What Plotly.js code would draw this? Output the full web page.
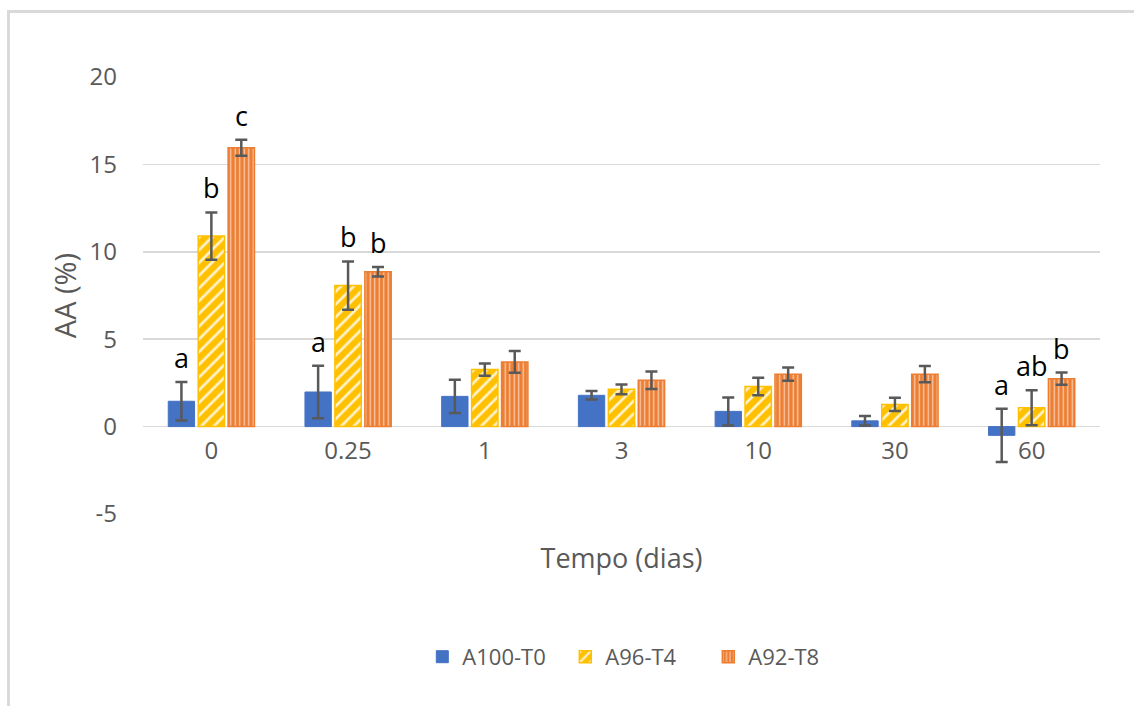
<!DOCTYPE html>
<html>
<head>
<meta charset="utf-8">
<script src="https://cdn.plot.ly/plotly-3.0.1.min.js"></script>
<style>
  html, body { margin: 0; padding: 0; background: #ffffff; }
  #wrap { position: relative; width: 1134px; height: 706px; overflow: hidden; }
  #chart { position: absolute; left: 0; top: 0; width: 1134px; height: 706px; }
  #frame { position: absolute; left: 7px; top: 10px; width: 1200px; height: 800px;
           border-left: 3px solid #D9D9D9; border-top: 3px solid #D9D9D9; pointer-events: none; }
</style>
</head>
<body>
<div id="wrap">
  <div id="chart"></div>
  <div id="frame"></div>
</div>
<script>
// Storage time (days)
const tempos = ['0', '0.25', '1', '3', '10', '30', '60'];

// AA (%) means and standard deviations per formulation
const a100 = [1.45, 1.98, 1.73, 1.79, 0.87, 0.33, -0.50];
const a100Err = [1.10, 1.50, 0.95, 0.24, 0.80, 0.27, 1.52];
const a96 = [10.90, 8.07, 3.26, 2.13, 2.30, 1.27, 1.08];
const a96Err = [1.35, 1.38, 0.35, 0.28, 0.50, 0.38, 1.00];
const a92 = [15.95, 8.86, 3.70, 2.65, 3.00, 3.00, 2.74];
const a92Err = [0.46, 0.27, 0.62, 0.50, 0.38, 0.46, 0.35];

// Significance letters (Tukey) per group
const letrasA100 = ['a', 'a', '', '', '', '', 'a'];
const letrasA96 = ['b', 'b', '', '', '', '', 'ab'];
const letrasA92 = ['c', 'b', '', '', '', '', 'b'];

const nomes = ['A100-T0', 'A96-T4', 'A92-T8'];

// Value-axis ticks (plain hyphen for the negative label)
const yTickVals = [-5, 0, 5, 10, 15, 20];
const yTickText = ['-5', '0', '5', '10', '15', '20'];

const FONT = 'Open Sans, Noto Sans, sans-serif';
const GRID = '#D9D9D9';
const TXT = '#595959';
const BARGAP = 0.343;
const GROUPGAP = 0.12;

const errStyle = (arr) => ({
  type: 'data', array: arr, visible: true,
  color: '#595959', thickness: 2.5, width: 6
});

const traces = [
  {
    type: 'bar', name: nomes[0], x: tempos, y: a100,
    marker: { color: '#4472C4', line: { color: '#4472C4', width: 1 } },
    error_y: errStyle(a100Err)
  },
  {
    type: 'bar', name: nomes[1], x: tempos, y: a96,
    marker: {
      color: '#FFC000', line: { color: '#FFC000', width: 1.5 },
      pattern: { shape: '/', fillmode: 'replace', bgcolor: '#FFC000', fgcolor: '#FFF2CC', size: 9, solidity: 0.3 }
    },
    error_y: errStyle(a96Err)
  },
  {
    type: 'bar', name: nomes[2], x: tempos, y: a92,
    marker: {
      color: '#ED7D31', line: { color: '#ED7D31', width: 1.5 },
      pattern: { shape: '|', fillmode: 'replace', bgcolor: '#ED7D31', fgcolor: '#F8CBAD', size: 4.5, solidity: 0.3 }
    },
    error_y: errStyle(a92Err)
  }
];

// Letters sit just above each error bar
const slot = (1 - BARGAP) / 3;
const series = [[a100, a100Err, letrasA100], [a96, a96Err, letrasA96], [a92, a92Err, letrasA92]];
const annotations = [];
series.forEach(([vals, errs, letras], k) => {
  letras.forEach((l, i) => {
    if (!l) return;
    annotations.push({
      x: i + (k - 1) * slot, y: vals[i] + errs[i], xref: 'x', yref: 'y',
      text: l, showarrow: false, yanchor: 'bottom', yshift: 4,
      font: { family: FONT, size: 27, color: '#000000' }
    });
  });
});

const layout = {
  width: 1134, height: 706,
  margin: { l: 143, r: 34, t: 77, b: 191.5 },
  paper_bgcolor: '#ffffff', plot_bgcolor: '#ffffff',
  barmode: 'group', bargap: BARGAP, bargroupgap: GROUPGAP,
  font: { family: FONT, color: TXT },
  showlegend: true,
  legend: {
    orientation: 'h', x: 0.516, xanchor: 'center', y: -0.327, yanchor: 'middle',
    font: { family: FONT, size: 22, color: TXT }, itemclick: false, itemdoubleclick: false,
    traceorder: 'normal', itemwidth: 30, entrywidth: 98, entrywidthmode: 'pixels'
  },
  xaxis: {
    type: 'category', anchor: 'free', position: 0.2,
    showgrid: false, showline: false, zeroline: false, ticks: '',
    tickfont: { family: FONT, size: 24, color: TXT }, ticklabelstandoff: 7,
    title: { text: 'Tempo (dias)', font: { family: FONT, size: 27, color: TXT }, standoff: 84 }
  },
  yaxis: {
    range: [-5, 20], tickmode: 'array', tickvals: yTickVals, ticktext: yTickText,
    showgrid: true, gridcolor: GRID, gridwidth: 1.5,
    zeroline: true, zerolinecolor: GRID, zerolinewidth: 1.5,
    showline: false, ticks: '', ticklabelstandoff: 25,
    tickfont: { family: FONT, size: 24, color: TXT },
    title: { text: 'AA (%)', font: { family: FONT, size: 29, color: TXT }, standoff: 4 }
  },
  annotations: annotations
};

Plotly.newPlot('chart', traces, layout, { displayModeBar: false, staticPlot: true });
</script>
</body>
</html>
